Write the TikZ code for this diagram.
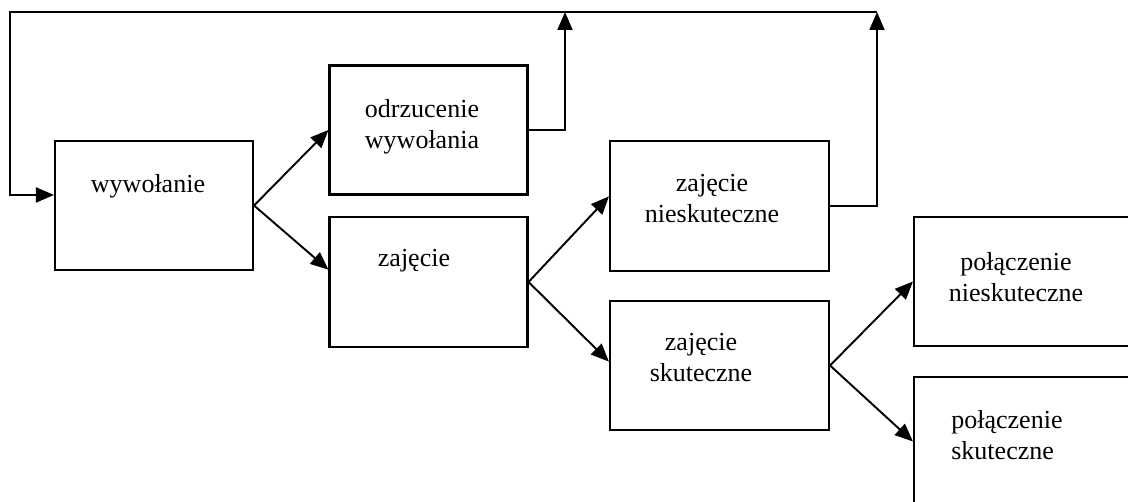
\documentclass[tikz,border=0pt]{standalone}
\usepackage{fontspec}
\setmainfont{Liberation Serif}
\usetikzlibrary{arrows.meta, positioning}

\begin{document}
\begin{tikzpicture}[
		x=0.02cm, y=-0.02cm,
		font=\fontsize{14.8}{17.6}\selectfont,
		box/.style={rectangle, draw, line width=1.2pt, inner sep=0pt,
			minimum width=3.96cm, minimum height=2.58cm},
		widebox/.style={box, minimum width=4.38cm},
		lbl/.style={align=center, inner sep=0pt, anchor=north},
		line/.style={-{Triangle[length=0.36cm, width=0.3cm]}, line width=1.1pt}
		]
		\useasboundingbox (0,0) rectangle (1128,502);
		\clip (0,0) rectangle (1128,502);
		
		% 1. Bloki
		\node[box] (wyw) at (154,205.5) {};
		\node[box] (odrz) at (428.5,130) {};
		\node[box, minimum height=2.6cm] (zaj) at (428.5,282) {};
		\node[widebox, minimum height=2.6cm] (zn) at (719.5,206) {};
		\node[widebox] (zs) at (719.5,365.5) {};
		\node[widebox] (pn) at (1023.5,281.5) {};
		\node[widebox] (ps) at (1023.5,441.5) {};
		
		% 2. Napisy
		\node[lbl] (wywT) at (148,174) {wywołanie};
		\node[lbl] (odrzT) at (422,99) {odrzucenie\\wywołania};
		\node[lbl] (zajT) at (414,249) {zajęcie};
		\node[lbl] (znT) at (712,174) {zajęcie\\nieskuteczne};
		\node[lbl] (zsT) at (701,333) {zajęcie\\skuteczne};
		\node[lbl] (pnT) at (1016,252) {połączenie\\nieskuteczne};
		\node[lbl, align=left, anchor=north west] (psT) at (951,410) {połączenie\\skuteczne};
		
		% 3. Rozgałęzienia
		\draw[line] (wyw.east) -- (odrz.west);
		\draw[line] (wyw.east) -- (zaj.173);
		\draw[line] (zaj.east) -- (zn.175);
		\draw[line] (zaj.east) -- (zs.178);
		\draw[line] (zs.east) -- (pn.west);
		\draw[line] (zs.east) -- (ps.west);
		
		% 4. Powrot do wywolania
		\coordinate (up1) at (565,12);
		\coordinate (up2) at (877,12);
		\coordinate (back) at (10,12);
		\draw[line] (odrz.east) -| (up1);
		\draw[line] (zn.east) -| (up2);
		\draw[line] (up2) -- (back) |- (wyw.174);
		
	\end{tikzpicture}
\end{document}
